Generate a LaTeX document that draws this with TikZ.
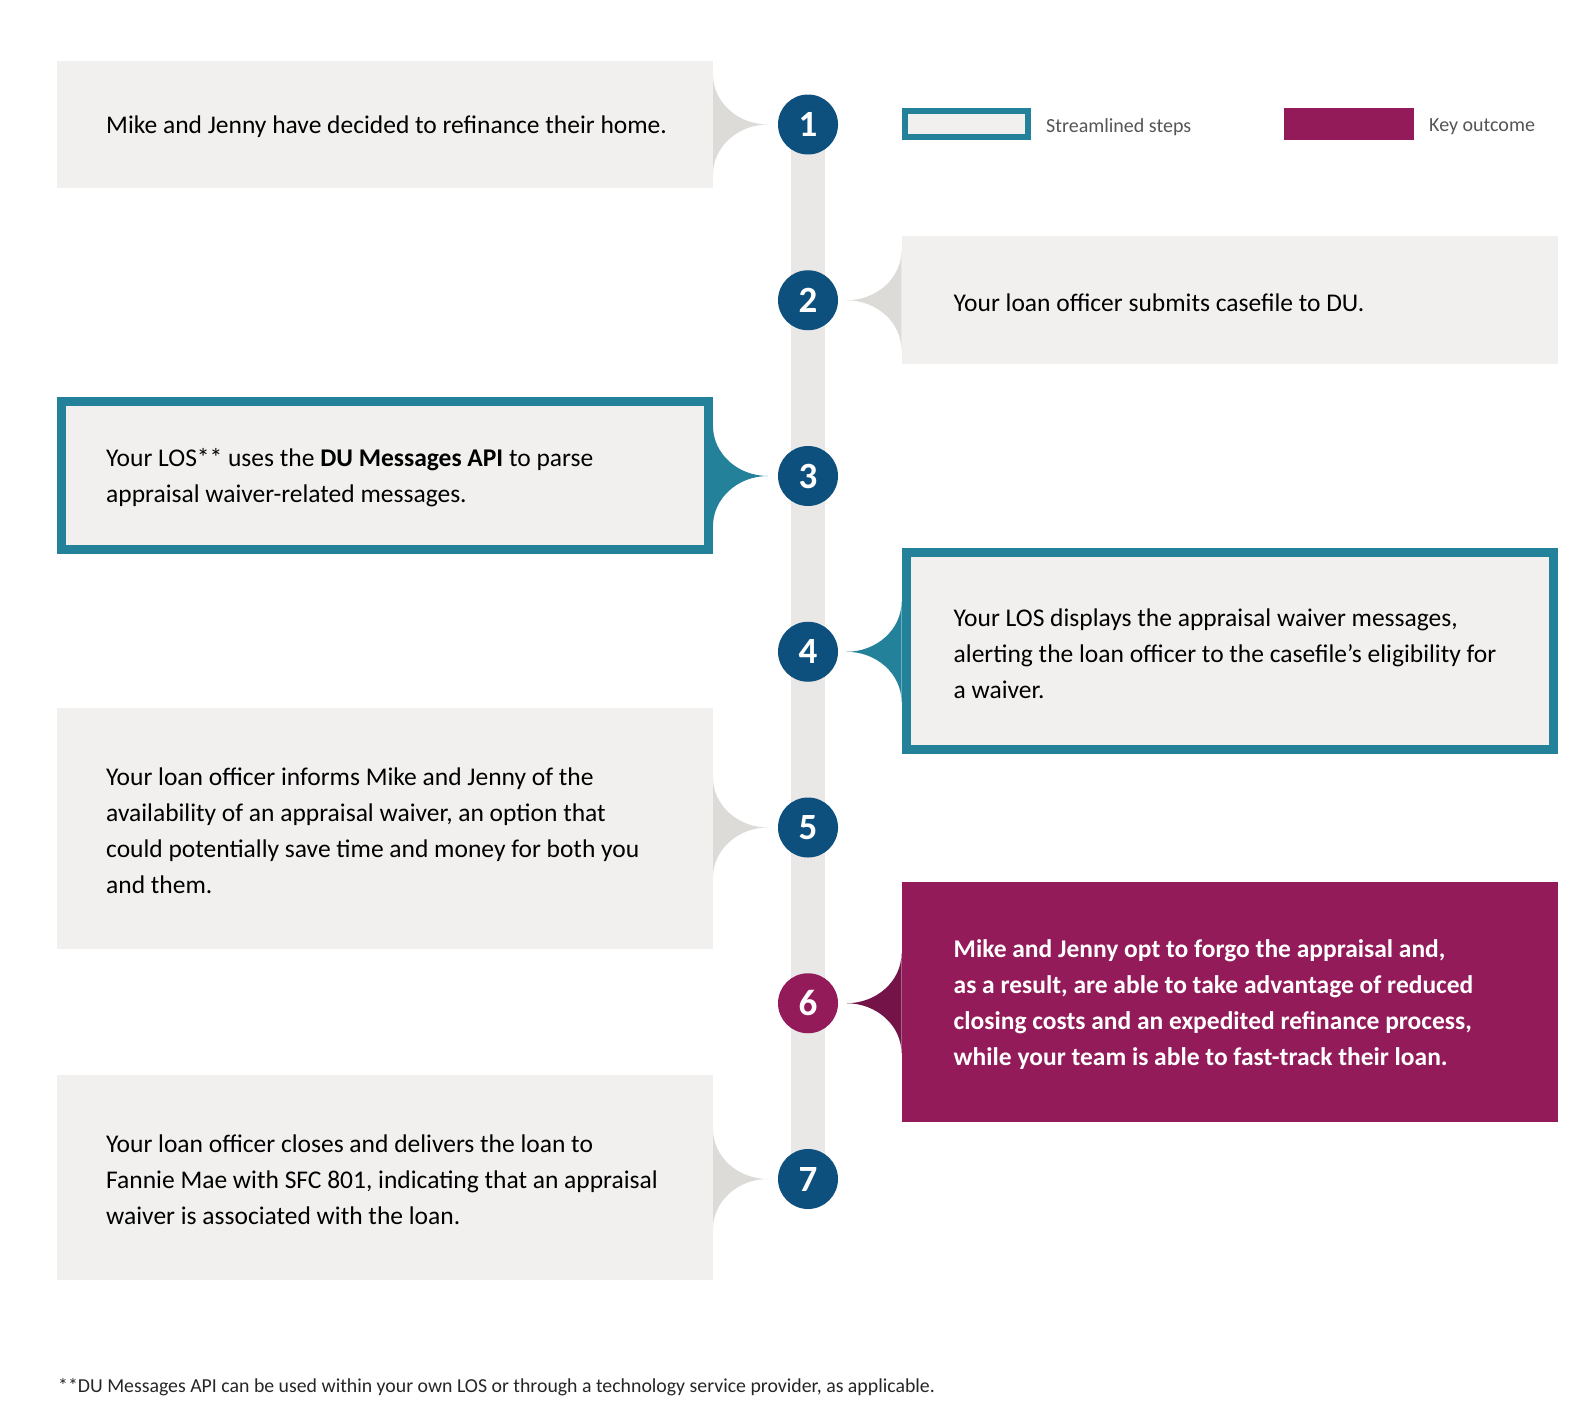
\documentclass[tikz,border=0pt]{standalone}
\usepackage{fontspec}
\setmainfont{Carlito}
\usetikzlibrary{calc,backgrounds}
\definecolor{boxgrey}{HTML}{F1F0EF}
\definecolor{tipgrey}{HTML}{DDDBD8}
\definecolor{bargrey}{HTML}{EAE8E6}
\definecolor{stepblue}{HTML}{0D4F7D}
\definecolor{streamteal}{HTML}{23819A}
\definecolor{keyplum}{HTML}{931B5A}
\definecolor{tipplum}{HTML}{741347}
\definecolor{legendgrey}{HTML}{555555}
% pointer from a box to its step circle: box, circle, anchor, side, colour
\newcommand{\calloutTip}[5]{%
  \coordinate (#1tip) at (#1.#3 |- #2.center);
  \fill[#5] ($(#1tip)+(0,-50)$) .. controls +(0,27.6) and +(-#4*30.4,0) .. ($(#1tip)+(#4*55,0)$)
    .. controls +(-#4*30.4,0) and +(0,-27.6) .. ($(#1tip)+(0,50)$) -- cycle;}

\begin{document}
\begin{tikzpicture}[x=1pt,y=-1pt]
    \tikzset{stepbox/.style={rectangle,minimum width=656pt,inner sep=0pt,outer sep=0pt,fill=boxgrey}}
    \tikzset{streambox/.style={rectangle,minimum width=647pt,inner sep=0pt,fill=boxgrey,draw=streamteal,line width=9pt}}
    \tikzset{keybox/.style={rectangle,minimum width=656pt,inner sep=0pt,outer sep=0pt,fill=keyplum}}
    \tikzset{stepnum/.style={circle,minimum size=60pt,inner sep=0pt,fill=stepblue,text=white,font=\fontsize{37}{37}\selectfont\bfseries}}
    \tikzset{bodytext/.style={anchor=west,align=left,inner sep=0pt,yshift=-2.5pt,font=\fontsize{25.5}{36}\selectfont}}
    \tikzset{legendtext/.style={anchor=west,inner sep=0pt,text=legendgrey,font=\fontsize{20}{20}\selectfont}}
    \useasboundingbox (0,0) rectangle (1586,1408);
    \draw (808,124.5) node[stepnum](c1){1};
    \draw (808,300.25) node[stepnum](c2){2};
    \draw (808,476) node[stepnum](c3){3};
    \draw (808,651.75) node[stepnum](c4){4};
    \draw (808,827.5) node[stepnum](c5){5};
    \draw (808,1003.25) node[stepnum,fill=keyplum](c6){6};
    \draw (808,1179) node[stepnum](c7){7};
    \begin{scope}[on background layer]
      \fill[bargrey] ([xshift=-17pt]c1.center) rectangle ([xshift=17pt]c7.center);
    \end{scope}
    \draw (385,124.5) node[stepbox,minimum height=127pt](b1){};
    \draw (1229.5,300) node[stepbox,minimum height=128pt](b2){};
    \draw (385,475.5) node[streambox,minimum height=148pt](b3){};
    \draw (1229.5,651) node[streambox,minimum height=197pt](b4){};
    \draw (385,828.5) node[stepbox,minimum height=241pt](b5){};
    \draw (1229.5,1002) node[keybox,minimum height=240pt](b6){};
    \draw (385,1177.5) node[stepbox,minimum height=205pt](b7){};
    \calloutTip{b1}{c1}{east}{1}{tipgrey}
    \calloutTip{b2}{c2}{west}{-1}{tipgrey}
    \calloutTip{b3}{c3}{east}{1}{streamteal}
    \calloutTip{b4}{c4}{west}{-1}{streamteal}
    \calloutTip{b5}{c5}{east}{1}{tipgrey}
    \calloutTip{b6}{c6}{west}{-1}{tipplum}
    \calloutTip{b7}{c7}{east}{1}{tipgrey}
    \node[bodytext] (t1) at ([xshift=49pt]b1.west) {Mike and Jenny have decided to refinance their home.};
    \node[bodytext] (t2) at ([xshift=52pt]b2.west) {Your loan officer submits casefile to DU.};
    \node[bodytext] (t3) at ([xshift=49pt]b3.west) {Your LOS** uses the \textbf{DU Messages API} to parse\\appraisal waiver-related messages.};
    \node[bodytext] (t4) at ([xshift=52pt]b4.west) {Your LOS displays the appraisal waiver messages,\\alerting the loan officer to the casefile’s eligibility for\\a waiver.};
    \node[bodytext] (t5) at ([xshift=49pt]b5.west) {Your loan officer informs Mike and Jenny of the\\availability of an appraisal waiver, an option that\\could potentially save time and money for both you\\and them.};
    \node[bodytext,text=white,font=\fontsize{25.5}{36}\selectfont\bfseries] (t6) at ([xshift=52pt]b6.west) {Mike and Jenny opt to forgo the appraisal and,\\as a result, are able to take advantage of reduced\\closing costs and an expedited refinance process,\\while your team is able to fast-track their loan.};
    \node[bodytext] (t7) at ([xshift=49pt]b7.west) {Your loan officer closes and delivers the loan to\\Fannie Mae with SFC 801, indicating that an appraisal\\waiver is associated with the loan.};
    % legend
    \draw (966.5,124) node[rectangle,minimum width=123pt,minimum height=26pt,fill=boxgrey,draw=streamteal,line width=6pt](l1){};
    \node[legendtext] (l1t) at (1046,127) {Streamlined steps};
    \draw (1349,124) node[rectangle,minimum width=130pt,minimum height=32pt,fill=keyplum](l2){};
    \node[legendtext] (l2t) at (1429,127) {Key outcome};
    % footnote
    \node[anchor=west,inner sep=0pt,text=black!85,font=\fontsize{19.8}{19.8}\selectfont] (fn) at (58,1387) {**DU Messages API can be used within your own LOS or through a technology service provider, as applicable.};
\end{tikzpicture}
\end{document}
